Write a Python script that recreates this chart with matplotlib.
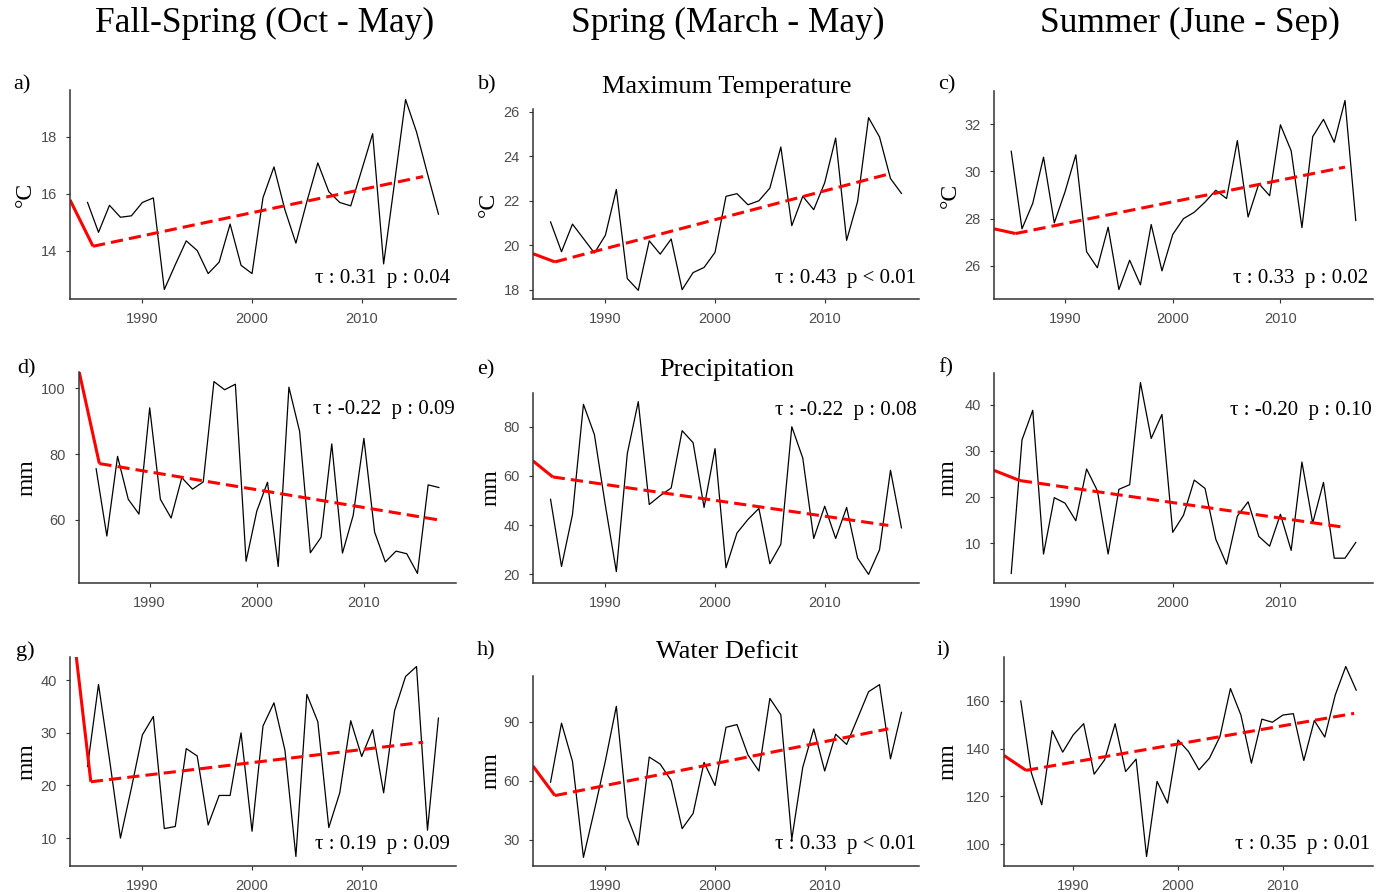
import matplotlib
matplotlib.use("Agg")
import matplotlib.pyplot as plt

# data
years = list(range(1985, 2018))

fall_tmax = [15.69, 14.64, 15.59, 15.17, 15.22, 15.69, 15.85, 12.63, 13.5, 14.34, 14.0,
             13.19, 13.59, 14.93, 13.48, 13.19, 15.86, 16.94, 15.43, 14.26, 15.72, 17.08,
             16.07, 15.69, 15.57, 16.83, 18.11, 13.53, 16.4, 19.31, 18.17, 16.7, 15.28]
spring_tmax = [21.05, 19.71, 20.95, 20.3, 19.65, 20.45, 22.51, 18.5, 17.97, 20.2, 19.6,
               20.28, 18.0, 18.77, 19.0, 19.68, 22.2, 22.32, 21.82, 22.0, 22.57, 24.42,
               20.88, 22.2, 21.6, 22.81, 24.82, 20.22, 21.97, 25.74, 24.87, 23.0, 22.33]
summer_tmax = [30.85, 27.57, 28.65, 30.6, 27.82, 29.14, 30.7, 26.6, 25.92, 27.64, 25.0,
               26.24, 25.2, 27.75, 25.79, 27.33, 28.0, 28.27, 28.7, 29.2, 28.85, 31.3,
               28.07, 29.48, 28.97, 31.97, 30.87, 27.62, 31.47, 32.2, 31.23, 33.0, 27.92]
fall_precip = [75.5, 55.0, 79.3, 66.2, 61.7, 94.1, 66.2, 60.5, 72.8, 69.3, 71.5,
               102.1, 99.6, 101.3, 47.3, 62.6, 71.4, 45.7, 100.4, 86.9, 49.9, 54.6,
               83.1, 49.8, 61.3, 84.8, 56.2, 47.1, 50.4, 49.6, 43.6, 70.6, 69.8]
spring_precip = [50.5, 23.2, 44.3, 89.1, 76.8, 48.0, 21.1, 69.1, 90.2, 48.4, 52.0,
                 55.1, 78.4, 73.5, 47.2, 71.1, 22.7, 36.8, 42.3, 46.8, 24.3, 32.2,
                 80.0, 67.3, 34.6, 47.7, 34.6, 47.2, 26.6, 20.0, 30.0, 62.3, 38.9]
summer_precip = [3.5, 32.4, 38.8, 7.7, 19.9, 18.7, 14.9, 26.1, 21.4, 7.7, 21.7,
                 22.7, 44.8, 32.7, 37.9, 12.4, 16.1, 23.7, 21.9, 10.9, 5.5, 15.9,
                 19.0, 11.5, 9.4, 16.3, 8.5, 27.6, 14.4, 23.2, 6.8, 6.8, 10.2]
fall_deficit = [23.6, 39.2, 25.0, 10.0, 19.5, 29.6, 33.1, 11.8, 12.2, 27.0, 25.6,
                12.5, 18.1, 18.1, 30.0, 11.3, 31.3, 35.7, 26.7, 6.5, 37.3, 32.1,
                12.0, 18.6, 32.3, 25.5, 30.6, 18.6, 34.2, 40.7, 42.6, 11.5, 32.8]
spring_deficit = [59.2, 89.2, 69.8, 21.0, 45.0, 70.0, 97.8, 41.6, 27.2, 72.0, 68.4,
                  60.0, 35.6, 43.3, 69.3, 57.5, 87.1, 88.5, 73.1, 64.9, 101.8, 93.5,
                  30.2, 66.8, 86.3, 64.9, 83.6, 78.4, 91.7, 105.2, 108.8, 71.1, 94.7]
summer_deficit = [159.9, 130.0, 116.5, 147.5, 138.5, 145.7, 150.4, 129.3, 135.3, 150.4, 130.4,
                  135.6, 94.9, 126.3, 117.2, 143.6, 138.75, 131.1, 136.0, 145.0, 165.1, 154.0,
                  133.9, 152.3, 151.0, 154.0, 154.6, 135.0, 151.7, 144.8, 162.4, 174.3, 164.4]

# trend lines (first segment solid, rest dashed)
trend_x = [[1983.4, 1985.5, 2015.6], [1983.4, 1985.4, 2000, 2015.8], [1983.4, 1985.4, 2016.0],
           [1983.4, 1985.3, 2017.0], [1983.4, 1985.2, 2015.8], [1983.4, 1985.8, 2015.6],
           [1983.4, 1985.3, 2015.6], [1983.4, 1985.4, 2015.8], [1983.4, 1985.5, 2016.8]]
trend_y = [[15.78, 14.15, 16.6], [19.62, 19.25, 21.15, 23.2], [27.57, 27.37, 30.18],
           [105.3, 77.1, 59.9], [66.1, 59.6, 39.9], [25.8, 23.6, 13.6],
           [54.7, 20.7, 28.2], [67.4, 52.4, 86.3], [137.1, 130.9, 154.7]]

taus = ["0.31", "0.43", "0.33", "-0.22", "-0.22", "-0.20", "0.19", "0.33", "0.35"]
pvals = [": 0.04", "< 0.01", ": 0.02", ": 0.09", ": 0.08", ": 0.10", ": 0.09", "< 0.01", ": 0.01"]

series = [fall_tmax, spring_tmax, summer_tmax, fall_precip, spring_precip, summer_precip,
          fall_deficit, spring_deficit, summer_deficit]
yticks = [[14, 16, 18], [18, 20, 22, 24, 26], [26, 28, 30, 32],
          [60, 80, 100], [20, 40, 60, 80], [10, 20, 30, 40],
          [10, 20, 30, 40], [30, 60, 90], [100, 120, 140, 160]]
units = ["°C", "°C", "°C", "mm", "mm", "mm", "mm", "mm", "mm"]
letters = ["a)", "b)", "c)", "d)", "e)", "f)", "g)", "h)", "i)"]
col_titles = ["Fall-Spring (Oct - May)", "Spring (March - May)", "Summer (June - Sep)"]
row_titles = ["Maximum Temperature", "Precipitation", "Water Deficit"]

W, H = 1382, 892
fig = plt.figure(figsize=(W / 100, H / 100), dpi=100)
serif = "Liberation Serif"

# axes boxes in pixels: left, top, right, bottom
boxes = [(70, 90, 456, 299), (533, 109, 919, 299), (994, 91, 1373, 299),
         (79, 372, 456, 583), (533, 393, 919, 583), (994, 373, 1373, 583),
         (70, 657, 456, 866), (533, 676, 919, 866), (1004, 657, 1373, 866)]
letter_pos = [(13, 85), (478, 85), (938, 85), (17, 369), (477, 370), (938, 368),
              (16, 651), (477, 651), (937, 651)]
ylab_x = [25, 488, 950, 27, 491, 948, 27, 491, 948]
stat_y = [0.1, 0.11, 0.1, 0.82, 0.91, 0.82, 0.105, 0.115, 0.105]

for k in range(9):
    l, t, r, b = boxes[k]
    ax = fig.add_axes([l / W, 1 - b / H, (r - l) / W, (b - t) / H])
    vals = series[k]
    ax.plot(years, vals, color="black", lw=0.9)
    tx, ty = trend_x[k], trend_y[k]
    ax.plot(tx[:2], ty[:2], color="red", lw=2.2, solid_capstyle="butt")
    ax.plot(tx[1:], ty[1:], color="red", lw=2.2, dashes=(4, 2))
    lo, hi = min(vals), max(vals)
    pad = 0.05 * (hi - lo)
    ax.set_ylim(lo - pad, hi + pad)
    ax.set_xlim(1983.4, 2018.6)
    ax.set_xticks([1990, 2000, 2010])
    ax.set_yticks(yticks[k])
    for s in ["top", "right"]:
        ax.spines[s].set_visible(False)
    for s in ["left", "bottom"]:
        ax.spines[s].set_color("#333333")
        ax.spines[s].set_linewidth(1.1)
    ax.tick_params(direction="out", length=3, width=0.8, color="#333333",
                   labelcolor="#4D4D4D", labelsize=10.5, pad=6.5)
    for lab in ax.get_xticklabels() + ax.get_yticklabels():
        lab.set_fontfamily("Liberation Sans")
    ax.annotate("τ : " + taus[k] + "  p " + pvals[k], xy=(2011.9, stat_y[k]),
                xycoords=("data", "axes fraction"), ha="center", va="center",
                fontsize=15, family=serif, annotation_clip=False)
    fig.text(ylab_x[k] / W, 1 - (t + b) / 2 / H, units[k], rotation=90,
             ha="center", va="center", fontsize=17, family=serif)
    lx, ly = letter_pos[k]
    fig.text(lx / W, 1 - ly / H, letters[k], ha="left", va="center",
             fontsize=16, family=serif)

for i, title in enumerate(col_titles):
    fig.text([265, 728, 1190][i] / W, 1 - 23 / H, title, ha="center", va="center",
             fontsize=25.5, family=serif)
for i, title in enumerate(row_titles):
    fig.text(727 / W, 1 - [87, 370, 652][i] / H, title, ha="center", va="center",
             fontsize=19, family=serif)

fig.savefig("out.png", dpi=100)
